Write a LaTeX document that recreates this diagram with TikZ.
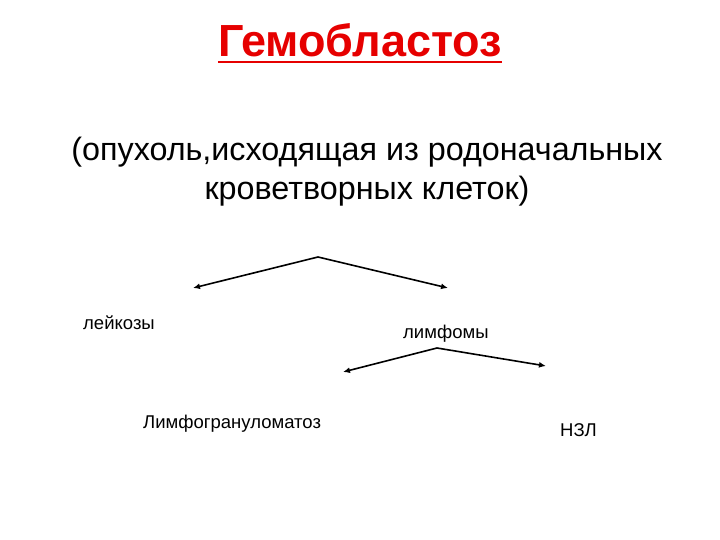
\documentclass[tikz,border=0pt]{standalone}
\usepackage{fontspec}
\setmainfont{Liberation Sans}
\usepackage{xcolor}
\usetikzlibrary{arrows}
\usetikzlibrary{arrows.meta}
\definecolor{titlered}{RGB}{230,0,0}

\begin{document}
\begin{tikzpicture}[x=1pt,y=-1pt]
\tikzset{>={Latex[width=6pt,length=7pt]}}
\tikzstyle{heading} =[inner sep=0pt,anchor=base,text=titlered,font=\fontsize{45}{50}\selectfont\bfseries]
\tikzstyle{subhead} =[inner sep=0pt,anchor=base,align=center,font=\fontsize{32.3}{39}\selectfont]
\tikzstyle{term} =[inner sep=0pt,anchor=base west,font=\fontsize{18.5}{22}\selectfont]
\tikzstyle{branch} =[->,line width=1.6pt]

\useasboundingbox (0,0) rectangle (720,540);

\node[heading](title) at (360,57){Гемобластоз};
\draw[titlered,line width=2.6pt] ([yshift=-5pt]title.base west) -- ([yshift=-5pt]title.base east);
\node[subhead](def) at (367,200){(опухоль,исходящая из родоначальных\\кроветворных клеток)};

\node[term](leuk) at (83,329){лейкозы};
\node[term](lymph) at (403,338){лимфомы};
\node[term](hodg) at (143,428){Лимфогрануломатоз};
\node[term](nhl) at (560,436){НЗЛ};

\coordinate (top1) at (318,257);
\coordinate (left1) at (193,288);
\coordinate (right1) at (448,288);
\coordinate (top2) at (437,348);
\coordinate (left2) at (343,372);
\coordinate (right2) at (546,366);

\draw[branch] (top1) -- (left1);
\draw[branch] (top1) -- (right1);
\draw[branch] (top2) -- (left2);
\draw[branch] (top2) -- (right2);
\end{tikzpicture}
\end{document}
